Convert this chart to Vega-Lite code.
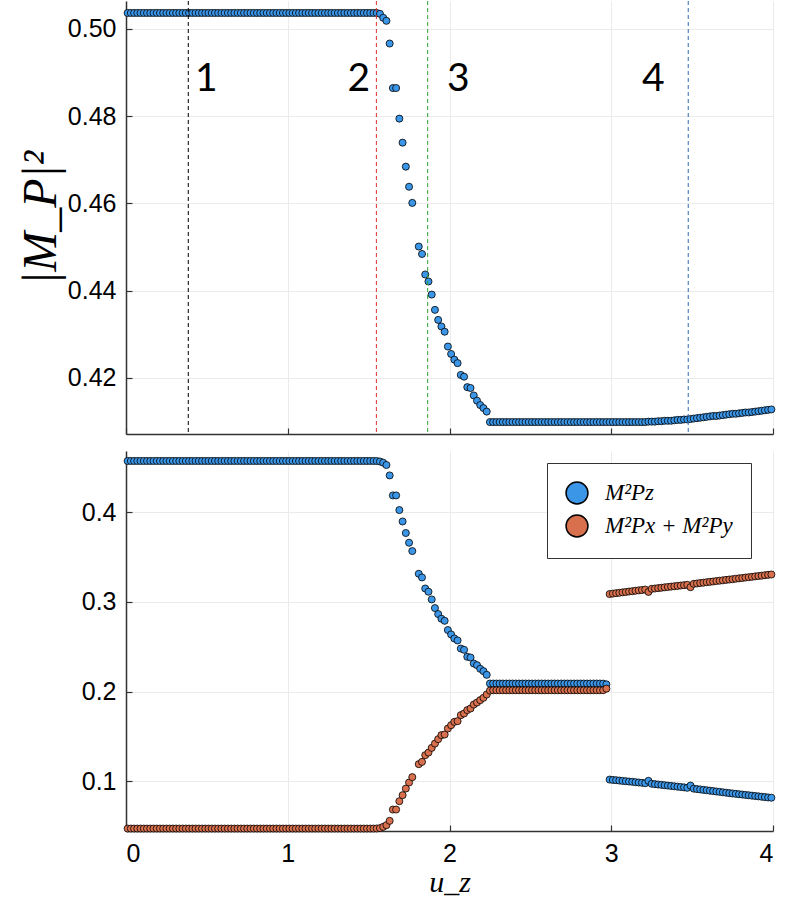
{
  "$schema": "https://vega.github.io/schema/vega-lite/v6.json",
  "padding": {"left": 17, "top": 0, "right": 10, "bottom": 0},
  "config": {
    "view": {"stroke": null},
    "axis": {
      "labelFont": "Liberation Sans", "labelFontSize": 25, "labelColor": "black",
      "domainColor": "#333", "domainWidth": 1.5,
      "tickColor": "#333", "tickSize": -6, "tickWidth": 1.2,
      "gridColor": "#ebebeb", "gridWidth": 1,
      "titleFont": "Liberation Serif", "titleFontStyle": "italic", "titleFontWeight": "normal", "titleColor": "black"
    }
  },
  "datasets": {
    "lines": [
      {"k": "1", "x": 0.385, "lx": 0.496, "ly": 0.4884},
      {"k": "2", "x": 1.548, "lx": 1.44, "ly": 0.4884},
      {"k": "3", "x": 1.865, "lx": 2.054, "ly": 0.4884},
      {"k": "4", "x": 3.476, "lx": 3.26, "ly": 0.4884}
    ],
    "m": [
      {"x":0.01,"t":0.5036,"z":0.4569,"xy":0.0473},{"x":0.03,"t":0.5036,"z":0.4569,"xy":0.0473},{"x":0.05,"t":0.5036,"z":0.4569,"xy":0.0473},{"x":0.07,"t":0.5036,"z":0.4569,"xy":0.0473},{"x":0.09,"t":0.5036,"z":0.4569,"xy":0.0473},
      {"x":0.11,"t":0.5036,"z":0.4569,"xy":0.0473},{"x":0.13,"t":0.5036,"z":0.4569,"xy":0.0473},{"x":0.15,"t":0.5036,"z":0.4569,"xy":0.0473},{"x":0.17,"t":0.5036,"z":0.4569,"xy":0.0473},{"x":0.19,"t":0.5036,"z":0.4569,"xy":0.0473},
      {"x":0.21,"t":0.5036,"z":0.4569,"xy":0.0473},{"x":0.23,"t":0.5036,"z":0.4569,"xy":0.0473},{"x":0.25,"t":0.5036,"z":0.4569,"xy":0.0473},{"x":0.27,"t":0.5036,"z":0.4569,"xy":0.0473},{"x":0.29,"t":0.5036,"z":0.4569,"xy":0.0473},
      {"x":0.31,"t":0.5036,"z":0.4569,"xy":0.0473},{"x":0.33,"t":0.5036,"z":0.4569,"xy":0.0473},{"x":0.35,"t":0.5036,"z":0.4569,"xy":0.0473},{"x":0.37,"t":0.5036,"z":0.4569,"xy":0.0473},{"x":0.39,"t":0.5036,"z":0.4569,"xy":0.0473},
      {"x":0.41,"t":0.5036,"z":0.4569,"xy":0.0473},{"x":0.43,"t":0.5036,"z":0.4569,"xy":0.0473},{"x":0.45,"t":0.5036,"z":0.4569,"xy":0.0473},{"x":0.47,"t":0.5036,"z":0.4569,"xy":0.0473},{"x":0.49,"t":0.5036,"z":0.4569,"xy":0.0473},
      {"x":0.51,"t":0.5036,"z":0.4569,"xy":0.0473},{"x":0.53,"t":0.5036,"z":0.4569,"xy":0.0473},{"x":0.55,"t":0.5036,"z":0.4569,"xy":0.0473},{"x":0.57,"t":0.5036,"z":0.4569,"xy":0.0473},{"x":0.59,"t":0.5036,"z":0.4569,"xy":0.0473},
      {"x":0.61,"t":0.5036,"z":0.4569,"xy":0.0473},{"x":0.63,"t":0.5036,"z":0.4569,"xy":0.0473},{"x":0.65,"t":0.5036,"z":0.4569,"xy":0.0473},{"x":0.67,"t":0.5036,"z":0.4569,"xy":0.0473},{"x":0.69,"t":0.5036,"z":0.4569,"xy":0.0473},
      {"x":0.71,"t":0.5036,"z":0.4569,"xy":0.0473},{"x":0.73,"t":0.5036,"z":0.4569,"xy":0.0473},{"x":0.75,"t":0.5036,"z":0.4569,"xy":0.0473},{"x":0.77,"t":0.5036,"z":0.4569,"xy":0.0473},{"x":0.79,"t":0.5036,"z":0.4569,"xy":0.0473},
      {"x":0.81,"t":0.5036,"z":0.4569,"xy":0.0473},{"x":0.83,"t":0.5036,"z":0.4569,"xy":0.0473},{"x":0.85,"t":0.5036,"z":0.4569,"xy":0.0473},{"x":0.87,"t":0.5036,"z":0.4569,"xy":0.0473},{"x":0.89,"t":0.5036,"z":0.4569,"xy":0.0473},
      {"x":0.91,"t":0.5036,"z":0.4569,"xy":0.0473},{"x":0.93,"t":0.5036,"z":0.4569,"xy":0.0473},{"x":0.95,"t":0.5036,"z":0.4569,"xy":0.0473},{"x":0.97,"t":0.5036,"z":0.4569,"xy":0.0473},{"x":0.99,"t":0.5036,"z":0.4569,"xy":0.0473},
      {"x":1.01,"t":0.5036,"z":0.4569,"xy":0.0473},{"x":1.03,"t":0.5036,"z":0.4569,"xy":0.0473},{"x":1.05,"t":0.5036,"z":0.4569,"xy":0.0473},{"x":1.07,"t":0.5036,"z":0.4569,"xy":0.0473},{"x":1.09,"t":0.5036,"z":0.4569,"xy":0.0473},
      {"x":1.11,"t":0.5036,"z":0.4569,"xy":0.0473},{"x":1.13,"t":0.5036,"z":0.4569,"xy":0.0473},{"x":1.15,"t":0.5036,"z":0.4569,"xy":0.0473},{"x":1.17,"t":0.5036,"z":0.4569,"xy":0.0473},{"x":1.19,"t":0.5036,"z":0.4569,"xy":0.0473},
      {"x":1.21,"t":0.5036,"z":0.4569,"xy":0.0473},{"x":1.23,"t":0.5036,"z":0.4569,"xy":0.0473},{"x":1.25,"t":0.5036,"z":0.4569,"xy":0.0473},{"x":1.27,"t":0.5036,"z":0.4569,"xy":0.0473},{"x":1.29,"t":0.5036,"z":0.4569,"xy":0.0473},
      {"x":1.31,"t":0.5036,"z":0.4569,"xy":0.0473},{"x":1.33,"t":0.5036,"z":0.4569,"xy":0.0473},{"x":1.35,"t":0.5036,"z":0.4569,"xy":0.0473},{"x":1.37,"t":0.5036,"z":0.4569,"xy":0.0473},{"x":1.39,"t":0.5036,"z":0.4569,"xy":0.0473},
      {"x":1.41,"t":0.5036,"z":0.4569,"xy":0.0473},{"x":1.43,"t":0.5036,"z":0.4569,"xy":0.0473},{"x":1.45,"t":0.5036,"z":0.4569,"xy":0.0473},{"x":1.47,"t":0.5036,"z":0.4569,"xy":0.0473},{"x":1.49,"t":0.5036,"z":0.4569,"xy":0.0473},
      {"x":1.51,"t":0.5036,"z":0.4569,"xy":0.0473},{"x":1.53,"t":0.5036,"z":0.4569,"xy":0.0473},{"x":1.55,"t":0.5036,"z":0.4568,"xy":0.0474},
      {"x":1.57,"t":0.5034,"z":0.4563,"xy":0.0478},
      {"x":1.59,"t":0.5025,"z":0.4550,"xy":0.0492},
      {"x":1.61,"t":0.5018,"z":0.4524,"xy":0.0511},
      {"x":1.63,"t":0.4966,"z":0.4408,"xy":0.0559},
      {"x":1.65,"t":0.4864,"z":0.4185,"xy":0.0685},
      {"x":1.67,"t":0.4864,"z":0.4185,"xy":0.0685},
      {"x":1.69,"t":0.4794,"z":0.4022,"xy":0.0778},
      {"x":1.71,"t":0.4739,"z":0.3895,"xy":0.0845},
      {"x":1.73,"t":0.4684,"z":0.3766,"xy":0.0919},
      {"x":1.75,"t":0.4638,"z":0.3658,"xy":0.0986},
      {"x":1.77,"t":0.4601,"z":0.3565,"xy":0.1046},
      {"x":1.81,"t":0.4501,"z":0.3312,"xy":0.1191},
      {"x":1.83,"t":0.4484,"z":0.3271,"xy":0.1216},
      {"x":1.85,"t":0.4437,"z":0.3148,"xy":0.1291},
      {"x":1.87,"t":0.4421,"z":0.3112,"xy":0.1320},
      {"x":1.89,"t":0.4391,"z":0.3026,"xy":0.1372},
      {"x":1.91,"t":0.4356,"z":0.2930,"xy":0.1420},
      {"x":1.93,"t":0.4333,"z":0.2863,"xy":0.1469},
      {"x":1.95,"t":0.4318,"z":0.2811,"xy":0.1514},
      {"x":1.97,"t":0.4306,"z":0.2788,"xy":0.1521},
      {"x":1.99,"t":0.4272,"z":0.2685,"xy":0.1588},
      {"x":2.01,"t":0.4255,"z":0.2636,"xy":0.1625},
      {"x":2.03,"t":0.4242,"z":0.2591,"xy":0.1662},
      {"x":2.05,"t":0.4234,"z":0.2569,"xy":0.1670},
      {"x":2.07,"t":0.4207,"z":0.2479,"xy":0.1737},
      {"x":2.09,"t":0.4203,"z":0.2465,"xy":0.1755},
      {"x":2.11,"t":0.4179,"z":0.2387,"xy":0.1793},
      {"x":2.13,"t":0.4177,"z":0.2379,"xy":0.1811},
      {"x":2.15,"t":0.4160,"z":0.2312,"xy":0.1855},
      {"x":2.17,"t":0.4148,"z":0.2294,"xy":0.1877},
      {"x":2.19,"t":0.4138,"z":0.2253,"xy":0.1904},
      {"x":2.21,"t":0.4131,"z":0.2227,"xy":0.1930},
      {"x":2.23,"t":0.4123,"z":0.2186,"xy":0.1967},
      {"x":2.25,"t":0.4099,"z":0.2089,"xy":0.2010},
      {"x":2.27,"t":0.4099,"z":0.2089,"xy":0.2014},{"x":2.29,"t":0.4099,"z":0.2089,"xy":0.2014},{"x":2.31,"t":0.4099,"z":0.2089,"xy":0.2014},{"x":2.33,"t":0.4099,"z":0.2089,"xy":0.2014},{"x":2.35,"t":0.4099,"z":0.2089,"xy":0.2014},
      {"x":2.37,"t":0.4099,"z":0.2089,"xy":0.2014},{"x":2.39,"t":0.4099,"z":0.2089,"xy":0.2014},{"x":2.41,"t":0.4099,"z":0.2089,"xy":0.2014},{"x":2.43,"t":0.4099,"z":0.2089,"xy":0.2014},{"x":2.45,"t":0.4099,"z":0.2089,"xy":0.2014},
      {"x":2.47,"t":0.4099,"z":0.2089,"xy":0.2014},{"x":2.49,"t":0.4099,"z":0.2089,"xy":0.2014},{"x":2.51,"t":0.4099,"z":0.2089,"xy":0.2014},{"x":2.53,"t":0.4099,"z":0.2089,"xy":0.2014},{"x":2.55,"t":0.4099,"z":0.2089,"xy":0.2014},
      {"x":2.57,"t":0.4099,"z":0.2089,"xy":0.2014},{"x":2.59,"t":0.4099,"z":0.2089,"xy":0.2014},{"x":2.61,"t":0.4099,"z":0.2089,"xy":0.2014},{"x":2.63,"t":0.4099,"z":0.2089,"xy":0.2014},{"x":2.65,"t":0.4099,"z":0.2089,"xy":0.2014},
      {"x":2.67,"t":0.4099,"z":0.2089,"xy":0.2014},{"x":2.69,"t":0.4099,"z":0.2089,"xy":0.2014},{"x":2.71,"t":0.4099,"z":0.2089,"xy":0.2014},{"x":2.73,"t":0.4099,"z":0.2089,"xy":0.2014},{"x":2.75,"t":0.4099,"z":0.2089,"xy":0.2014},
      {"x":2.77,"t":0.4099,"z":0.2089,"xy":0.2014},{"x":2.79,"t":0.4099,"z":0.2089,"xy":0.2014},{"x":2.81,"t":0.4099,"z":0.2089,"xy":0.2014},{"x":2.83,"t":0.4099,"z":0.2089,"xy":0.2014},{"x":2.85,"t":0.4099,"z":0.2089,"xy":0.2014},
      {"x":2.87,"t":0.4099,"z":0.2089,"xy":0.2014},{"x":2.89,"t":0.4099,"z":0.2089,"xy":0.2014},{"x":2.91,"t":0.4099,"z":0.2089,"xy":0.2014},{"x":2.93,"t":0.4099,"z":0.2089,"xy":0.2014},{"x":2.95,"t":0.4099,"z":0.2088,"xy":0.2015},
      {"x":2.97,"t":0.4099,"z":0.2080,"xy":0.2032},
      {"x":2.99,"t":0.4099,"z":0.1019,"xy":0.3086},{"x":3.01,"t":0.4099,"z":0.1015,"xy":0.3091},{"x":3.03,"t":0.4099,"z":0.1012,"xy":0.3096},{"x":3.05,"t":0.4099,"z":0.1008,"xy":0.3100},{"x":3.07,"t":0.4099,"z":0.1004,"xy":0.3105},
      {"x":3.09,"t":0.4099,"z":0.1001,"xy":0.3109},{"x":3.11,"t":0.4099,"z":0.0997,"xy":0.3114},{"x":3.13,"t":0.4099,"z":0.0994,"xy":0.3118},{"x":3.15,"t":0.4099,"z":0.0990,"xy":0.3123},{"x":3.17,"t":0.4099,"z":0.0986,"xy":0.3127},
      {"x":3.19,"t":0.4099,"z":0.0983,"xy":0.3131},{"x":3.21,"t":0.4099,"z":0.0979,"xy":0.3136},{"x":3.23,"t":0.4100,"z":0.1005,"xy":0.3110},{"x":3.25,"t":0.4100,"z":0.0972,"xy":0.3144},{"x":3.27,"t":0.4100,"z":0.0968,"xy":0.3148},
      {"x":3.29,"t":0.4101,"z":0.0964,"xy":0.3152},{"x":3.31,"t":0.4101,"z":0.0960,"xy":0.3156},{"x":3.33,"t":0.4102,"z":0.0956,"xy":0.3161},{"x":3.35,"t":0.4102,"z":0.0952,"xy":0.3165},{"x":3.37,"t":0.4102,"z":0.0948,"xy":0.3169},
      {"x":3.39,"t":0.4103,"z":0.0944,"xy":0.3173},{"x":3.41,"t":0.4104,"z":0.0940,"xy":0.3177},{"x":3.43,"t":0.4104,"z":0.0936,"xy":0.3181},{"x":3.45,"t":0.4105,"z":0.0932,"xy":0.3185},{"x":3.47,"t":0.4105,"z":0.0927,"xy":0.3189},
      {"x":3.49,"t":0.4106,"z":0.0952,"xy":0.3163},{"x":3.51,"t":0.4107,"z":0.0918,"xy":0.3200},{"x":3.53,"t":0.4108,"z":0.0913,"xy":0.3204},{"x":3.55,"t":0.4109,"z":0.0909,"xy":0.3209},{"x":3.57,"t":0.4110,"z":0.0904,"xy":0.3213},
      {"x":3.59,"t":0.4111,"z":0.0900,"xy":0.3218},{"x":3.61,"t":0.4112,"z":0.0895,"xy":0.3222},{"x":3.63,"t":0.4113,"z":0.0891,"xy":0.3226},{"x":3.65,"t":0.4113,"z":0.0886,"xy":0.3231},{"x":3.67,"t":0.4114,"z":0.0882,"xy":0.3235},
      {"x":3.69,"t":0.4115,"z":0.0877,"xy":0.3239},{"x":3.71,"t":0.4116,"z":0.0873,"xy":0.3244},{"x":3.73,"t":0.4117,"z":0.0868,"xy":0.3248},{"x":3.75,"t":0.4118,"z":0.0864,"xy":0.3252},{"x":3.77,"t":0.4118,"z":0.0860,"xy":0.3257},
      {"x":3.79,"t":0.4119,"z":0.0856,"xy":0.3261},{"x":3.81,"t":0.4120,"z":0.0852,"xy":0.3265},{"x":3.83,"t":0.4121,"z":0.0848,"xy":0.3270},{"x":3.85,"t":0.4121,"z":0.0844,"xy":0.3274},{"x":3.87,"t":0.4122,"z":0.0840,"xy":0.3278},
      {"x":3.89,"t":0.4123,"z":0.0836,"xy":0.3283},{"x":3.91,"t":0.4124,"z":0.0832,"xy":0.3287},{"x":3.93,"t":0.4125,"z":0.0828,"xy":0.3291},{"x":3.95,"t":0.4126,"z":0.0824,"xy":0.3296},{"x":3.97,"t":0.4127,"z":0.0820,"xy":0.3300},
      {"x":3.99,"t":0.4128,"z":0.0817,"xy":0.3304}
    ]
  },
  "spacing": 16,
  "resolve": {
    "scale": {"x": "independent", "y": "independent", "color": "independent"},
    "legend": {"color": "independent"}
  },
  "vconcat": [
    {
      "width": 647,
      "height": 433,
      "layer": [
        {
          "data": {"name": "m"},
          "mark": {"type": "point", "filled": true, "shape": "circle", "size": 50, "color": "#3b96e8", "stroke": "black", "strokeWidth": 0.8, "opacity": 1},
          "encoding": {
            "x": {"field": "x", "type": "quantitative", "title": null,
              "scale": {"domain": [0, 4], "nice": false},
              "axis": {"values": [0, 1, 2, 3, 4], "labels": false}},
            "y": {"field": "t", "type": "quantitative", "title": "|M_P|²",
              "scale": {"domain": [0.40717, 0.50634], "nice": false, "zero": false},
              "axis": {"values": [0.42, 0.44, 0.46, 0.48, 0.5], "format": ".2f", "labelPadding": 16, "titleFontSize": 48, "titlePadding": 2}}
          }
        },
        {
          "data": {"name": "lines"},
          "mark": {"type": "rule", "strokeDash": [4, 3], "strokeWidth": 1},
          "encoding": {
            "x": {"field": "x", "type": "quantitative", "title": null},
            "color": {"field": "k", "type": "nominal", "legend": null,
              "scale": {"domain": ["1", "2", "3", "4"], "range": ["#000000", "#e0302a", "#2ca02c", "#2f6db5"]}}
          }
        },
        {
          "data": {"name": "lines"},
          "mark": {"type": "text", "font": "Lato", "fontSize": 39, "color": "black", "baseline": "middle", "align": "center"},
          "encoding": {
            "x": {"field": "lx", "type": "quantitative", "title": null},
            "y": {"field": "ly", "type": "quantitative", "title": "|M_P|²"},
            "text": {"field": "k"}
          }
        }
      ]
    },
    {
      "width": 647,
      "height": 380,
      "data": {"name": "m"},
      "transform": [{"fold": ["z", "xy"], "as": ["s", "v"]}],
      "mark": {"type": "point", "filled": true, "shape": "circle", "size": 50, "stroke": "black", "strokeWidth": 0.8, "opacity": 1},
      "encoding": {
        "x": {"field": "x", "type": "quantitative", "title": "u_z",
          "scale": {"domain": [0, 4], "nice": false},
          "axis": {"values": [0, 1, 2, 3, 4], "format": "d", "labelPadding": 16, "titleFontSize": 30, "titlePadding": 1}},
        "y": {"field": "v", "type": "quantitative", "title": null,
          "scale": {"domain": [0.0446, 0.468], "nice": false, "zero": false},
          "axis": {"values": [0.1, 0.2, 0.3, 0.4], "format": ".1f", "labelPadding": 16}},
        "color": {"field": "s", "type": "nominal",
          "scale": {"domain": ["z", "xy"], "range": ["#3b96e8", "#d8704d"]},
          "legend": {"title": null, "orient": "none", "legendX": 421, "legendY": 12,
            "labelExpr": "datum.label == 'z' ? 'M²Pz' : 'M²Px + M²Py'",
            "labelFont": "Liberation Serif", "labelFontStyle": "italic", "labelFontSize": 23, "labelColor": "black",
            "symbolType": "circle", "symbolSize": 480, "symbolStrokeColor": "black", "symbolStrokeWidth": 1.5, "symbolOpacity": 1,
            "strokeColor": "#333", "fillColor": "white", "padding": 18, "rowPadding": 5, "labelOffset": 16, "cornerRadius": 0}},
        "order": {"field": "s", "sort": "descending"}
      }
    }
  ]
}
